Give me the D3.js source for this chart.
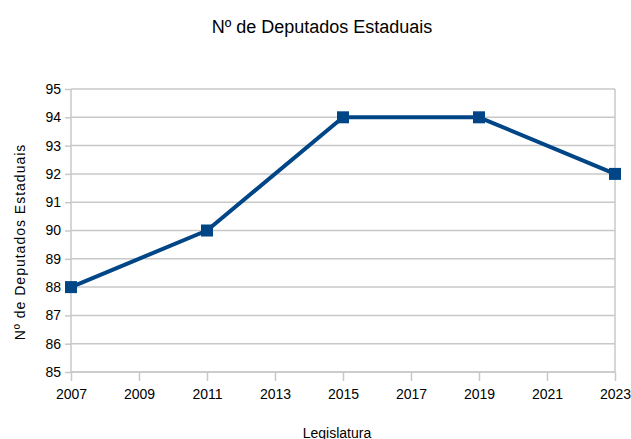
<!DOCTYPE html>
<html>
<head>
<meta charset="utf-8">
<script src="https://cdn.jsdelivr.net/npm/d3@7"></script>
<style>
  body { margin: 0; background: #fff; }
  text { font-family: "Liberation Sans", Arial, sans-serif; fill: #000; }
</style>
</head>
<body>
<div class="canvas"></div>
<script>
const years = [2007, 2011, 2015, 2019, 2023]
const deputados = [88, 90, 94, 94, 92]
const xTicks = [2007, 2009, 2011, 2013, 2015, 2017, 2019, 2021, 2023]
const yTicks = [85, 86, 87, 88, 89, 90, 91, 92, 93, 94, 95]

const data = years.map((y, i) => ({ year: y, value: deputados[i] }))

const width = 631
const height = 439
const margin = { top: 89, left: 71, bottom: 67, right: 16 }
const graphWidth = width - margin.left - margin.right
const graphHeight = height - margin.top - margin.bottom

const svg = d3.select('.canvas')
  .append('svg')
    .attr('width', width)
    .attr('height', height)

const graph = svg.append('g')
  .attr('transform', `translate(${margin.left}, ${margin.top})`)

const x = d3.scaleLinear()
  .domain([2007, 2023])
  .range([0, graphWidth])

const y = d3.scaleLinear()
  .domain([85, 95])
  .range([graphHeight, 0])

// horizontal grid
graph.append('g')
  .selectAll('line')
  .data(yTicks)
  .enter()
  .append('line')
    .attr('x1', 0)
    .attr('x2', graphWidth)
    .attr('y1', d => y(d))
    .attr('y2', d => y(d))
    .attr('stroke', '#c8c8c8')
    .attr('stroke-width', 1.5)

// right border
graph.append('line')
  .attr('x1', graphWidth).attr('x2', graphWidth)
  .attr('y1', 0).attr('y2', graphHeight)
  .attr('stroke', '#c8c8c8')
  .attr('stroke-width', 1.5)

const yAxis = d3.axisLeft(y)
  .tickValues(yTicks)
  .tickSize(6)
  .tickPadding(4)
  .tickFormat(d3.format('d'))

const xAxis = d3.axisBottom(x)
  .tickValues(xTicks)
  .tickSize(9)
  .tickPadding(8)
  .tickFormat(d3.format('d'))

const yAxisGroup = graph.append('g').call(yAxis)
const xAxisGroup = graph.append('g')
  .attr('transform', `translate(0, ${graphHeight})`)
  .call(xAxis)

;[xAxisGroup, yAxisGroup].forEach(g => {
  g.selectAll('path, line')
    .attr('stroke', '#c8c8c8')
    .attr('stroke-width', 1.5)
  g.select('.domain').attr('d', g === xAxisGroup
    ? `M0,0H${graphWidth}`
    : `M0,0V${graphHeight}`)
  g.selectAll('text')
    .attr('font-size', 14)
    .attr('font-family', '"Liberation Sans Narrow", "Liberation Sans", sans-serif')
    .attr('fill', '#111')
})

const line = d3.line()
  .x(d => x(d.year))
  .y(d => y(d.value))

graph.append('path')
  .datum(data)
  .attr('fill', 'none')
  .attr('stroke', '#004586')
  .attr('stroke-width', 4)
  .attr('stroke-linejoin', 'round')
  .attr('d', line)

const size = 12
graph.selectAll('rect.marker')
  .data(data)
  .enter()
  .append('rect')
    .attr('class', 'marker')
    .attr('width', size)
    .attr('height', size)
    .attr('x', d => x(d.year) - size / 2)
    .attr('y', d => y(d.value) - size / 2)
    .attr('fill', '#004586')

svg.append('text')
  .attr('x', 322)
  .attr('y', 33)
  .attr('text-anchor', 'middle')
  .attr('font-size', 18)
  .text('Nº de Deputados Estaduais')

svg.append('text')
  .attr('x', 337)
  .attr('y', 438)
  .attr('text-anchor', 'middle')
  .attr('font-size', 14)
  .attr('font-family', '"Liberation Sans Narrow", "Liberation Sans", sans-serif')
  .text('Legislatura')

svg.append('text')
  .attr('transform', 'translate(25, 242) rotate(-90)')
  .attr('text-anchor', 'middle')
  .attr('font-size', 14)
  .attr('letter-spacing', 1)
  .text('Nº de Deputados Estaduais')
</script>
</body>
</html>
